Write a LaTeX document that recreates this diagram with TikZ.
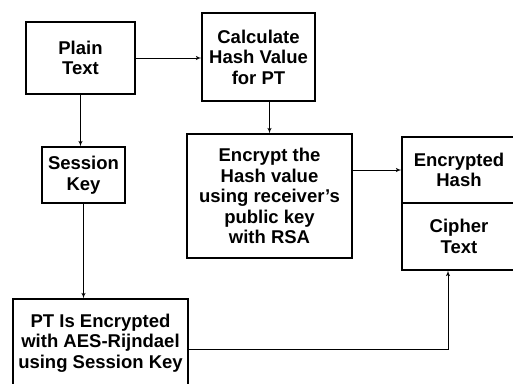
\documentclass[tikz,border=0pt]{standalone}
\usepackage{fontspec}
\setmainfont{Liberation Sans}
\usepackage{tikz}
\usetikzlibrary{arrows,calc}

\begin{document}
\begin{tikzpicture}[>=latex', x=1pt, y=-1pt,
		box/.style={draw, line width=1.1pt, align=center, inner sep=0pt,
			font=\fontsize{18.5}{20.5}\selectfont\bfseries},
		link/.style={->, line width=0.9pt}]
			\clip (0,0) rectangle (513,383);
			\fill[white] (0,0) rectangle (513,383);
			\node[box, minimum width=109pt, minimum height=72pt] (plain) at (80.5,58) {Plain\\Text};
			\node[box, minimum width=113pt, minimum height=88pt] (calc) at (258.5,57) {Calculate\\Hash Value\\for PT};
			\node[box, minimum width=83pt, minimum height=56pt] (session) at (83.5,175) {Session\\Key};
			\node[box, minimum width=165pt, minimum height=124pt] (enchash) at (269.5,196) {Encrypt the\\Hash value\\using receiver's\\public key\\with RSA};
			\node[box, minimum width=114pt, minimum height=66pt] (ehash) at (459,170) {Encrypted\\Hash};
			\node[box, minimum width=114pt, minimum height=67pt] (cipher) at (459,236.5) {Cipher\\Text};
			\node[box, minimum width=175pt, minimum height=88pt] (aes) at (100.5,343) {PT Is Encrypted\\with AES-Rijndael\\using Session Key};
			\coordinate (turn) at (448,349);
			\draw[link] (plain.east) -- (plain.east -| calc.west);
			\draw[link] (plain.south) -- (plain.south |- session.north);
			\draw[link] (session.south) -- (session.south |- aes.north);
			\draw[link] (calc.south -| enchash.north) -- (enchash.north);
			\draw[link] (enchash.east |- ehash.west) -- (ehash.west);
			\draw[link] (aes.east |- turn) -- (turn) -- (turn |- cipher.south);
		\end{tikzpicture}
\end{document}
